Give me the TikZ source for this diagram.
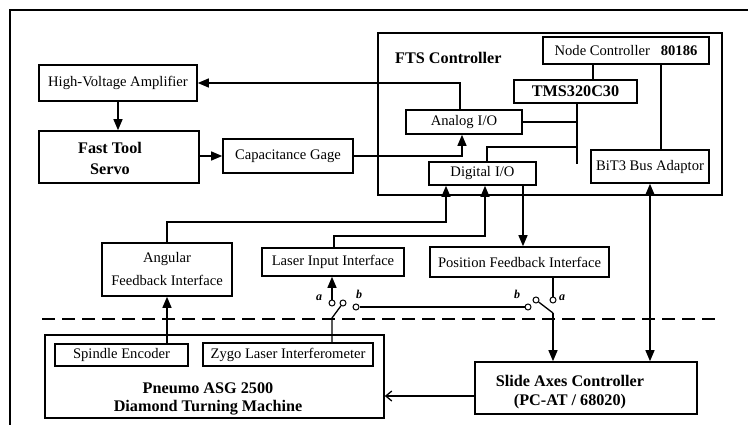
\documentclass[tikz,border=0pt]{standalone}
\usepackage{fontspec}
\setmainfont{Liberation Serif}
\usetikzlibrary{arrows.meta,calc}
\newcommand\rgf{\fontsize{14.6}{23}\selectfont}
\newcommand\bdf{\fontsize{16.2}{20}\selectfont\bfseries}
\tikzset{
  box/.style={draw, line width=1.6pt, inner sep=0pt, font=\rgf, align=center},
  bbox/.style={box, font=\bdf},
  txt/.style={inner sep=0pt, align=center},
  con/.style={line width=1.3pt},
  bus/.style={line width=2.8pt},
  tri/.style={-{Triangle[length=11pt,width=9pt]}},
  dtri/.style={{Triangle[length=11pt,width=9pt]}-{Triangle[length=11pt,width=9pt]}},
  barb/.style={-{Straight Barb[length=6pt,width=10pt]}},
  contact/.style={circle, draw, line width=1pt, inner sep=0pt, minimum size=6pt, fill=white},
  lbl/.style={inner sep=0pt, font=\fontsize{12}{12}\selectfont\bfseries\itshape},
}
\begin{document}
\begin{tikzpicture}[x=1pt,y=-1pt]
\useasboundingbox (0,0) rectangle (748,425);
% outer frame
\coordinate (fr1) at (748,10);
\coordinate (fr2) at (10,10);
\coordinate (fr3) at (10,425);
\draw[line width=1.4pt] (fr1) -- (fr2) -- (fr3);

% left blocks
\node[box, minimum width=158pt, minimum height=36pt] (hva) at (118,83) {High-Voltage Amplifier};
\node[box, minimum width=160pt, minimum height=52pt] (fts) at (119,157) {};
\node[txt, font=\bdf, text depth=0pt] (ftstxt) at (110,158) {Fast Tool\\[1pt]Servo};
\node[box, minimum width=130pt, minimum height=34pt] (cap) at (288,156) {Capacitance Gage};

% FTS controller
\node[box, minimum width=344pt, minimum height=162pt] (ftsc) at (550,114) {};
\node[txt, font=\bdf, anchor=west] (ftsctxt) at (395,58) {FTS Controller};
\node[box, minimum width=166pt, minimum height=27pt] (nodec) at (626,50.5) {Node Controller\hspace{11pt}\textbf{80186}};
\node[bbox, minimum width=123pt, minimum height=23pt] (tms) at (575.5,91.5) {TMS320C30};
\node[box, minimum width=116pt, minimum height=24pt] (analog) at (464,122) {Analog\hspace{4pt}I/O};
\node[box, minimum width=107pt, minimum height=23pt] (digital) at (482.5,173.5) {Digital\hspace{4pt}I/O};
\node[box, minimum width=118pt, minimum height=33pt] (bit) at (650,166.5) {BiT3 Bus Adaptor};

% interfaces
\node[box, minimum width=130pt, minimum height=53pt] (ang) at (167,269.5) {Angular\\Feedback Interface};
\node[box, minimum width=142pt, minimum height=28pt] (laser) at (333,262) {Laser Input Interface};
\node[box, minimum width=179pt, minimum height=30pt] (posfb) at (519.5,262) {Position Feedback Interface};

% dashed separator
\coordinate (ds1) at (42,319);
\coordinate (ds2) at (722,319);
\draw[line width=1.6pt, dash pattern=on 13pt off 7pt] (ds1) -- (ds2);

% machine
\node[box, minimum width=339pt, minimum height=83pt] (pneumo) at (214.5,376.5) {};
\node[box, minimum width=133pt, minimum height=22pt] (spindle) at (121.5,355) {Spindle Encoder};
\node[box, minimum width=170pt, minimum height=23pt] (zygo) at (288,354.5) {Zygo Laser Interferometer};
\node[txt, font=\bdf, text depth=0pt] (pneumotxt) at (208,397) {Pneumo ASG 2500\\[-2pt]Diamond Turning Machine};
\node[box, minimum width=222pt, minimum height=52pt] (slide) at (586,388) {};
\node[txt, font=\bdf, text depth=0pt] (slidetxt) at (570,390) {Slide Axes Controller\\[-1pt](PC-AT / 68020)};

% connectors, left side
\draw[con,tri] ($(analog.north)+(-4,0)$) |- (hva.east);
\draw[con,tri] (hva.south) -- (hva.south |- fts.north);
\draw[con,tri] (fts.east |- cap.west) -- (cap.west);
\draw[con,tri] (cap.east) -| ($(analog.south)+(-2,0)$);

% internal bus
\coordinate (nt) at (593,0);
\coordinate (nb) at (661,0);
\coordinate (bb) at (577,164);
\coordinate (dj) at (577,147);
\draw[bus] (nodec.south -| nt) -- (tms.north -| nt);
\draw[bus] (tms.south -| bb) -- (bb);
\draw[bus] (analog.east) -- (analog.east -| bb);
\draw[bus] (dj) -| ($(digital.north)+(4.5,0)$);
\draw[bus] (nodec.south -| nb) -- (bit.north -| nb);
\draw[con,dtri] (bit.south) -- (bit.south |- slide.north);

% digital I/O links
\coordinate (d1) at (446,222);
\coordinate (d2) at (485,236);
\coordinate (d3) at (523,0);
\draw[con,tri] (ang.north) |- (d1) -- (d1 |- digital.south);
\draw[con,tri] ($(laser.north)+(1,0)$) |- (d2) -- (d2 |- digital.south);
\draw[con,tri] (digital.south -| d3) -- (posfb.north -| d3);
\draw[con,tri] (spindle.north -| ang.south) -- (ang.south);

% switches
\coordinate (lk) at (332,318);
\coordinate (rk) at (553,313);
\node[contact] (cla) at (332,303) {};
\node[contact] (clp) at (343,303) {};
\node[contact] (clb) at (356,307) {};
\node[contact] (crb) at (528,307) {};
\node[contact] (crp) at (536,300) {};
\node[contact] (cra) at (553,300) {};
\draw[con] (zygo.north -| lk) -- (lk) -- (clp);
\draw[con,tri] (cla) -- (cla |- laser.south);
\draw[con] (clb) -- (crb);
\draw[con] (posfb.south -| cra) -- (cra);
\draw[con] (crp) -- (rk);
\draw[con,tri] (rk) -- (rk |- slide.north);
\node[lbl] (lal) at (319,298) {a};
\node[lbl] (lbl1) at (359,294) {b};
\node[lbl] (rbl) at (517,294) {b};
\node[lbl] (ral) at (562,298) {a};

% slide -> machine
\coordinate (sp) at (0,396);
\draw[con,barb] (slide.west |- sp) -- (pneumo.east |- sp);
\end{tikzpicture}
\end{document}
